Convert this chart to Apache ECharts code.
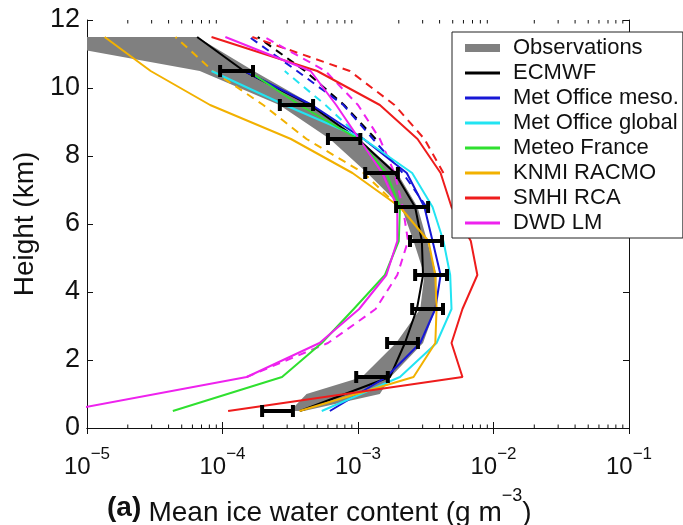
<!DOCTYPE html>
<html><head><meta charset="utf-8">
<script src="https://cdn.jsdelivr.net/npm/echarts@6/dist/echarts.min.js"></script>
<style>html,body{margin:0;padding:0;background:#fff}#c{width:683px;height:525px}</style>
</head><body><div id="c"></div>
<script>
// ---- data (ice water content in g m^-3, heights in km) ----
const heights = [0.5, 1.5, 2.5, 3.5, 4.5, 5.5, 6.5, 7.5, 8.5, 9.5, 10.5, 11.5];

// observations: grey band (low/high bounds)
const bandHeights = [0.5, 1.0, 1.5, 2.5, 3.5, 4.5, 5.5, 6.5, 7.5, 8.5, 9.5, 10.5, 11.5];
const obsBandLow  = [3.16e-4, 4.17e-4, 1.07e-3, 1.91e-3, 2.88e-3, 3.09e-3, 2.57e-3, 2.09e-3, 1.17e-3, 6.2e-4, 2.63e-4, 6.8e-5, 2.8e-6];
const obsBandHigh = [3.98e-4, 1.45e-3, 1.74e-3, 3.02e-3, 3.72e-3, 3.80e-3, 3.24e-3, 2.75e-3, 1.95e-3, 1.02e-3, 4.68e-4, 1.70e-4, 6.5e-5];

// observations: error bars
const errHeights = [0.5, 1.5, 2.5, 3.5, 4.5, 5.5, 6.5, 7.5, 8.5, 9.5, 10.5];
const obsErrLow  = [1.96e-4, 9.7e-4, 1.64e-3, 2.51e-3, 2.64e-3, 2.42e-3, 1.91e-3, 1.13e-3, 6.0e-4, 2.65e-4, 9.6e-5];
const obsErrHigh = [3.31e-4, 1.66e-3, 2.77e-3, 4.24e-3, 4.54e-3, 4.17e-3, 3.29e-3, 1.97e-3, 1.04e-3, 4.66e-4, 1.68e-4];

// models (solid), values at `heights`
const ecmwf        = [3.73e-4, 1.72e-3, 2.22e-3, 2.72e-3, 3.02e-3, 2.96e-3, 2.64e-3, 1.87e-3, 1.0e-3, 4.43e-4, 1.44e-4, 6.5e-5];
const metOfficeMeso   = [6.2e-4, 1.62e-3, 2.88e-3, 3.72e-3, 4.07e-3, 3.55e-3, 3.09e-3, 2.29e-3, 1.10e-3, 4.57e-4, 1.45e-4, null];
const metOfficeGlobal = [5.4e-4, 2.04e-3, 3.80e-3, 4.90e-3, 4.79e-3, 4.27e-3, 3.55e-3, 2.51e-3, 1.10e-3, 2.88e-4, 8.3e-5, null];
const meteoFrance  = [4.3e-5, 2.75e-4, 5.4e-4, 9.3e-4, 1.58e-3, 2.0e-3, 2.04e-3, 1.62e-3, 1.0e-3, 3.7e-4, 1.55e-4, null];
const knmiRacmo    = [3.7e-4, 2.57e-3, 3.72e-3, 3.80e-3, 3.72e-3, 3.31e-3, 2.04e-3, 9.1e-4, 3.2e-4, 8.1e-5, 2.95e-5, 1.35e-5];
const smhiRca      = [1.10e-4, 5.9e-3, 4.9e-3, 5.9e-3, 7.6e-3, 6.8e-3, 4.9e-3, 4.07e-3, 2.75e-3, 1.45e-3, 5.0e-4, 8.3e-5];
const dwdLm        = [6.8e-6, 1.51e-4, 5.2e-4, 1.02e-3, 1.62e-3, 1.95e-3, 1.95e-3, 1.51e-3, 1.02e-3, 6.9e-4, 4.47e-4, 1.05e-4];

// models (dashed variants), values at `heights`
const ecmwfDash    = [null, null, null, null, null, null, null, null, 1.35e-3, 7.9e-4, 4.07e-4, 1.82e-4];
const metMesoDash  = [null, null, null, null, null, null, 3.2e-3, 2.14e-3, 1.29e-3, 7.8e-4, 3.55e-4, 1.58e-4];
const metGlobDash  = [null, null, null, null, null, null, null, null, 1.07e-3, 5.75e-4, 2.88e-4, null];
const knmiDash     = [null, null, null, null, null, null, 2.0e-3, 1.10e-3, 4.17e-4, 2.0e-4, 8.5e-5, 4.5e-5];
const smhiDash     = [null, null, null, null, null, null, null, 4.27e-3, 3.09e-3, 1.86e-3, 8.7e-4, 1.66e-4];
const dwdDash      = [null, 1.51e-4, 6.0e-4, 1.35e-3, 1.95e-3, 2.34e-3, 2.14e-3, 1.86e-3, 1.45e-3, 1.0e-3, 5.75e-4, 2.04e-4];

const legendNames = ['Observations', 'ECMWF', 'Met Office meso.', 'Met Office global', 'Meteo France', 'KNMI RACMO', 'SMHI RCA', 'DWD LM'];
const xTickValues = [1e-5, 1e-4, 1e-3, 1e-2, 1e-1];
const xMinorTickValues = [
  2e-5, 3e-5, 4e-5, 5e-5, 6e-5, 7e-5, 8e-5, 9e-5,
  2e-4, 3e-4, 4e-4, 5e-4, 6e-4, 7e-4, 8e-4, 9e-4,
  2e-3, 3e-3, 4e-3, 5e-3, 6e-3, 7e-3, 8e-3, 9e-3,
  2e-2, 3e-2, 4e-2, 5e-2, 6e-2, 7e-2, 8e-2, 9e-2
];
const yTickValues = [0, 2, 4, 6, 8, 10, 12];

// ---- chart ----
const FONT = 'Liberation Sans, Arial, Helvetica, sans-serif';
const colors = {
  'ECMWF': '#000000', 'Met Office meso.': '#1717d6', 'Met Office global': '#22e4f2',
  'Meteo France': '#2fe02f', 'KNMI RACMO': '#f2b100', 'SMHI RCA': '#ee1c1c', 'DWD LM': '#ee22ee'
};
function pairs(vals, hs) {
  const out = [];
  hs.forEach((h, i) => { if (vals[i] != null) out.push([vals[i], h]); });
  return out;
}
function lineSeries(name, vals, dashed) {
  return {
    type: 'line', name: name, data: pairs(vals, heights), symbol: 'none', showSymbol: false,
    color: colors[name], clip: true, z: dashed ? 2 : 3, silent: true,
    lineStyle: { width: 2, color: colors[name], type: dashed ? [8, 6] : 'solid' }
  };
}

const chart = echarts.init(document.getElementById('c'), null, { renderer: 'canvas' });
const lineIcon = 'path://M0,0h35v3h-35z';
const bandIcon = 'path://M0,0h35v8h-35z';
const yMin = yTickValues[0], yMax = yTickValues[yTickValues.length - 1];

const option = {
  animation: false,
  backgroundColor: '#fff',
  grid: { left: 87, right: 54, top: 20, bottom: 97, containLabel: false, outerBoundsMode: 'none' },
  legend: {
    orient: 'vertical', left: 452, top: 32, z: 10,
    backgroundColor: '#fff', borderColor: '#222', borderWidth: 1,
    padding: [5, 4, 4, 13], itemWidth: 35, itemHeight: 14, itemGap: 3,
    selectedMode: false,
    textStyle: { fontFamily: FONT, fontSize: 22, color: '#111', lineHeight: 22, padding: [0, 0, 0, 8] },
    data: legendNames.map(n => ({ name: n, icon: n === 'Observations' ? bandIcon : lineIcon }))
  },
  xAxis: [{
    type: 'log', logBase: 10, min: xTickValues[0], max: xTickValues[xTickValues.length - 1], position: 'bottom',
    axisLine: { show: true, lineStyle: { color: '#111', width: 1 } },
    axisTick: { show: true, inside: true, length: 6, lineStyle: { color: '#111' } },
    splitLine: { show: false },
    axisLabel: {
      margin: 18, color: '#111', verticalAlign: 'top',
      formatter: v => { const e = Math.round(Math.log10(v)); return '{b|10}{s|\u2212' + Math.abs(e) + '}'; },
      rich: {
        b: { fontFamily: FONT, fontSize: 24, lineHeight: 24, verticalAlign: 'bottom', color: '#111' },
        s: { fontFamily: FONT, fontSize: 17, lineHeight: 33, verticalAlign: 'top', color: '#111' }
      }
    },
    name: '{m|Mean ice water content (g m}{s|\u22123}{m|)}',
    nameLocation: 'middle', nameGap: 59,
    nameTextStyle: {
      padding: [0, 36, 0, 0], verticalAlign: 'top',
      rich: {
        m: { fontFamily: FONT, fontSize: 28, lineHeight: 28, verticalAlign: 'bottom', color: '#111' },
        s: { fontFamily: FONT, fontSize: 18, lineHeight: 40, verticalAlign: 'top', color: '#111' }
      }
    }
  }, {
    type: 'log', logBase: 10, min: xTickValues[0], max: xTickValues[xTickValues.length - 1], position: 'top',
    axisLine: { show: true, lineStyle: { color: '#111', width: 1 } },
    axisTick: { show: true, inside: true, length: 6, lineStyle: { color: '#111' } },
    splitLine: { show: false }, axisLabel: { show: false }
  }],
  yAxis: [{
    type: 'value', min: yMin, max: yMax, interval: 2, position: 'left',
    axisLine: { show: true, lineStyle: { color: '#111', width: 1 } },
    axisTick: { show: true, inside: true, length: 6, lineStyle: { color: '#111' } },
    splitLine: { show: false },
    axisLabel: { margin: 7, fontFamily: FONT, fontSize: 27, color: '#111' },
    name: 'Height (km)', nameLocation: 'middle', nameGap: 45,
    nameTextStyle: { fontFamily: FONT, fontSize: 28, color: '#111' }
  }, {
    type: 'value', min: yMin, max: yMax, interval: 2, position: 'right',
    axisLine: { show: true, lineStyle: { color: '#111', width: 1 } },
    axisTick: { show: true, inside: true, length: 6, lineStyle: { color: '#111' } },
    splitLine: { show: false }, axisLabel: { show: false }
  }],
  series: [
    {
      type: 'custom', name: 'Observations', coordinateSystem: 'cartesian2d', clip: true, z: 1, silent: true,
      itemStyle: { color: '#808080' }, color: '#808080',
      data: [[obsBandHigh[5], bandHeights[5]]],
      renderItem: (params, api) => {
        const pts = [];
        for (let i = 0; i < bandHeights.length; i++) pts.push(api.coord([obsBandLow[i], bandHeights[i]]));
        for (let i = bandHeights.length - 1; i >= 0; i--) pts.push(api.coord([obsBandHigh[i], bandHeights[i]]));
        return { type: 'polygon', shape: { points: pts }, style: { fill: '#808080' } };
      }
    },
    lineSeries('ECMWF', ecmwfDash, true),
    lineSeries('Met Office meso.', metMesoDash, true),
    lineSeries('Met Office global', metGlobDash, true),
    lineSeries('KNMI RACMO', knmiDash, true),
    lineSeries('SMHI RCA', smhiDash, true),
    lineSeries('DWD LM', dwdDash, true),
    lineSeries('ECMWF', ecmwf, false),
    lineSeries('Met Office meso.', metOfficeMeso, false),
    lineSeries('Met Office global', metOfficeGlobal, false),
    lineSeries('Meteo France', meteoFrance, false),
    lineSeries('KNMI RACMO', knmiRacmo, false),
    lineSeries('SMHI RCA', smhiRca, false),
    lineSeries('DWD LM', dwdLm, false),
    {
      type: 'custom', name: 'obsErrorBars', coordinateSystem: 'cartesian2d', clip: true, z: 5, silent: true,
      data: errHeights.map((h, i) => [obsErrLow[i], obsErrHigh[i], h]),
      encode: { x: [0, 1], y: 2 },
      renderItem: (params, api) => {
        const lo = api.coord([api.value(0), api.value(2)]);
        const hi = api.coord([api.value(1), api.value(2)]);
        return {
          type: 'group', children: [
            { type: 'line', shape: { x1: lo[0], y1: lo[1], x2: hi[0], y2: hi[1] }, style: { stroke: '#000', lineWidth: 4 } },
            { type: 'rect', shape: { x: lo[0] - 2, y: lo[1] - 6, width: 4, height: 12 }, style: { fill: '#000' } },
            { type: 'rect', shape: { x: hi[0] - 2, y: hi[1] - 6, width: 4, height: 12 }, style: { fill: '#000' } }
          ]
        };
      }
    },
    {
      // minor ticks of the log axis (bottom and top), placed through the axis scale
      type: 'custom', name: 'xMinorTicks', coordinateSystem: 'cartesian2d', clip: false, z: 6, silent: true,
      data: xMinorTickValues.map(v => [v, yMin]),
      renderItem: (params, api) => {
        const b = api.coord([api.value(0), yMin]);
        const t = api.coord([api.value(0), yMax]);
        return {
          type: 'group', children: [
            { type: 'line', shape: { x1: b[0], y1: b[1], x2: b[0], y2: b[1] - 3.5 }, style: { stroke: '#111', lineWidth: 1 } },
            { type: 'line', shape: { x1: t[0], y1: t[1], x2: t[0], y2: t[1] + 3.5 }, style: { stroke: '#111', lineWidth: 1 } }
          ]
        };
      }
    }
  ],
  graphic: [{
    type: 'text', left: 107, top: 494, z: 10,
    style: { text: '(a)', font: 'bold 28px ' + FONT, fill: '#111' }
  }]
};
chart.setOption(option);
</script>
</body></html>
